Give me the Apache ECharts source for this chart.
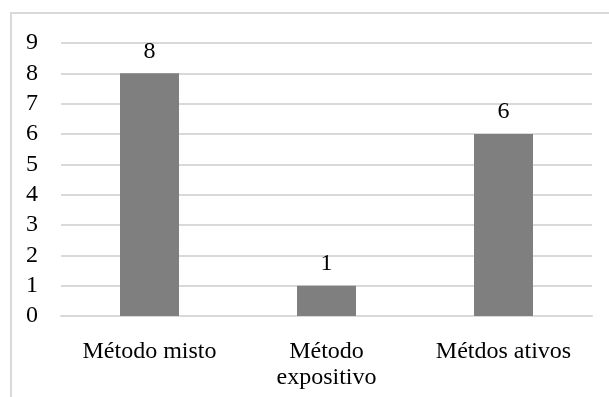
<!DOCTYPE html>
<html>
<head>
<meta charset="utf-8">
<script src="https://cdn.jsdelivr.net/npm/echarts@6/dist/echarts.min.js"></script>
<style>
  html, body { margin: 0; padding: 0; background: #fff; }
  #chart { width: 609px; height: 397px; }
</style>
</head>
<body>
<div id="chart"></div>
<script>
const categories = ['Método misto', 'Método\nexpositivo', 'Métdos ativos']
const values = [8, 1, 6]
const yTicks = { min: 0, max: 9, interval: 1 }

const font = '"Liberation Serif", "Times New Roman", serif'

const myChart = echarts.init(document.getElementById('chart'))
myChart.setOption({
  animation: false,
  graphic: [
    {
      type: 'rect',
      shape: { x: 11, y: 13, width: 700, height: 500 },
      style: { fill: 'none', stroke: '#d9d9d9', lineWidth: 2 },
      silent: true
    }
  ],
  grid: {
    left: 61,
    right: 17,
    top: 43,
    bottom: 81
  },
  xAxis: {
    type: 'category',
    data: categories,
    axisLine: { show: true, lineStyle: { color: '#d9d9d9', width: 2 } },
    axisTick: { show: false },
    axisLabel: {
      color: '#000',
      fontFamily: font,
      fontSize: 24,
      lineHeight: 26,
      margin: 23
    }
  },
  yAxis: {
    type: 'value',
    min: yTicks.min,
    max: yTicks.max,
    interval: yTicks.interval,
    axisLine: { show: false },
    axisTick: { show: false },
    splitLine: { lineStyle: { color: '#d9d9d9', width: 2 } },
    axisLabel: {
      color: '#000',
      fontFamily: font,
      fontSize: 24,
      margin: 23
    }
  },
  series: [
    {
      type: 'bar',
      data: values,
      barWidth: 59,
      itemStyle: { color: '#7f7f7f' },
      label: {
        show: true,
        position: 'top',
        distance: 10,
        color: '#000',
        fontFamily: font,
        fontSize: 24
      }
    }
  ]
})
</script>
</body>
</html>
